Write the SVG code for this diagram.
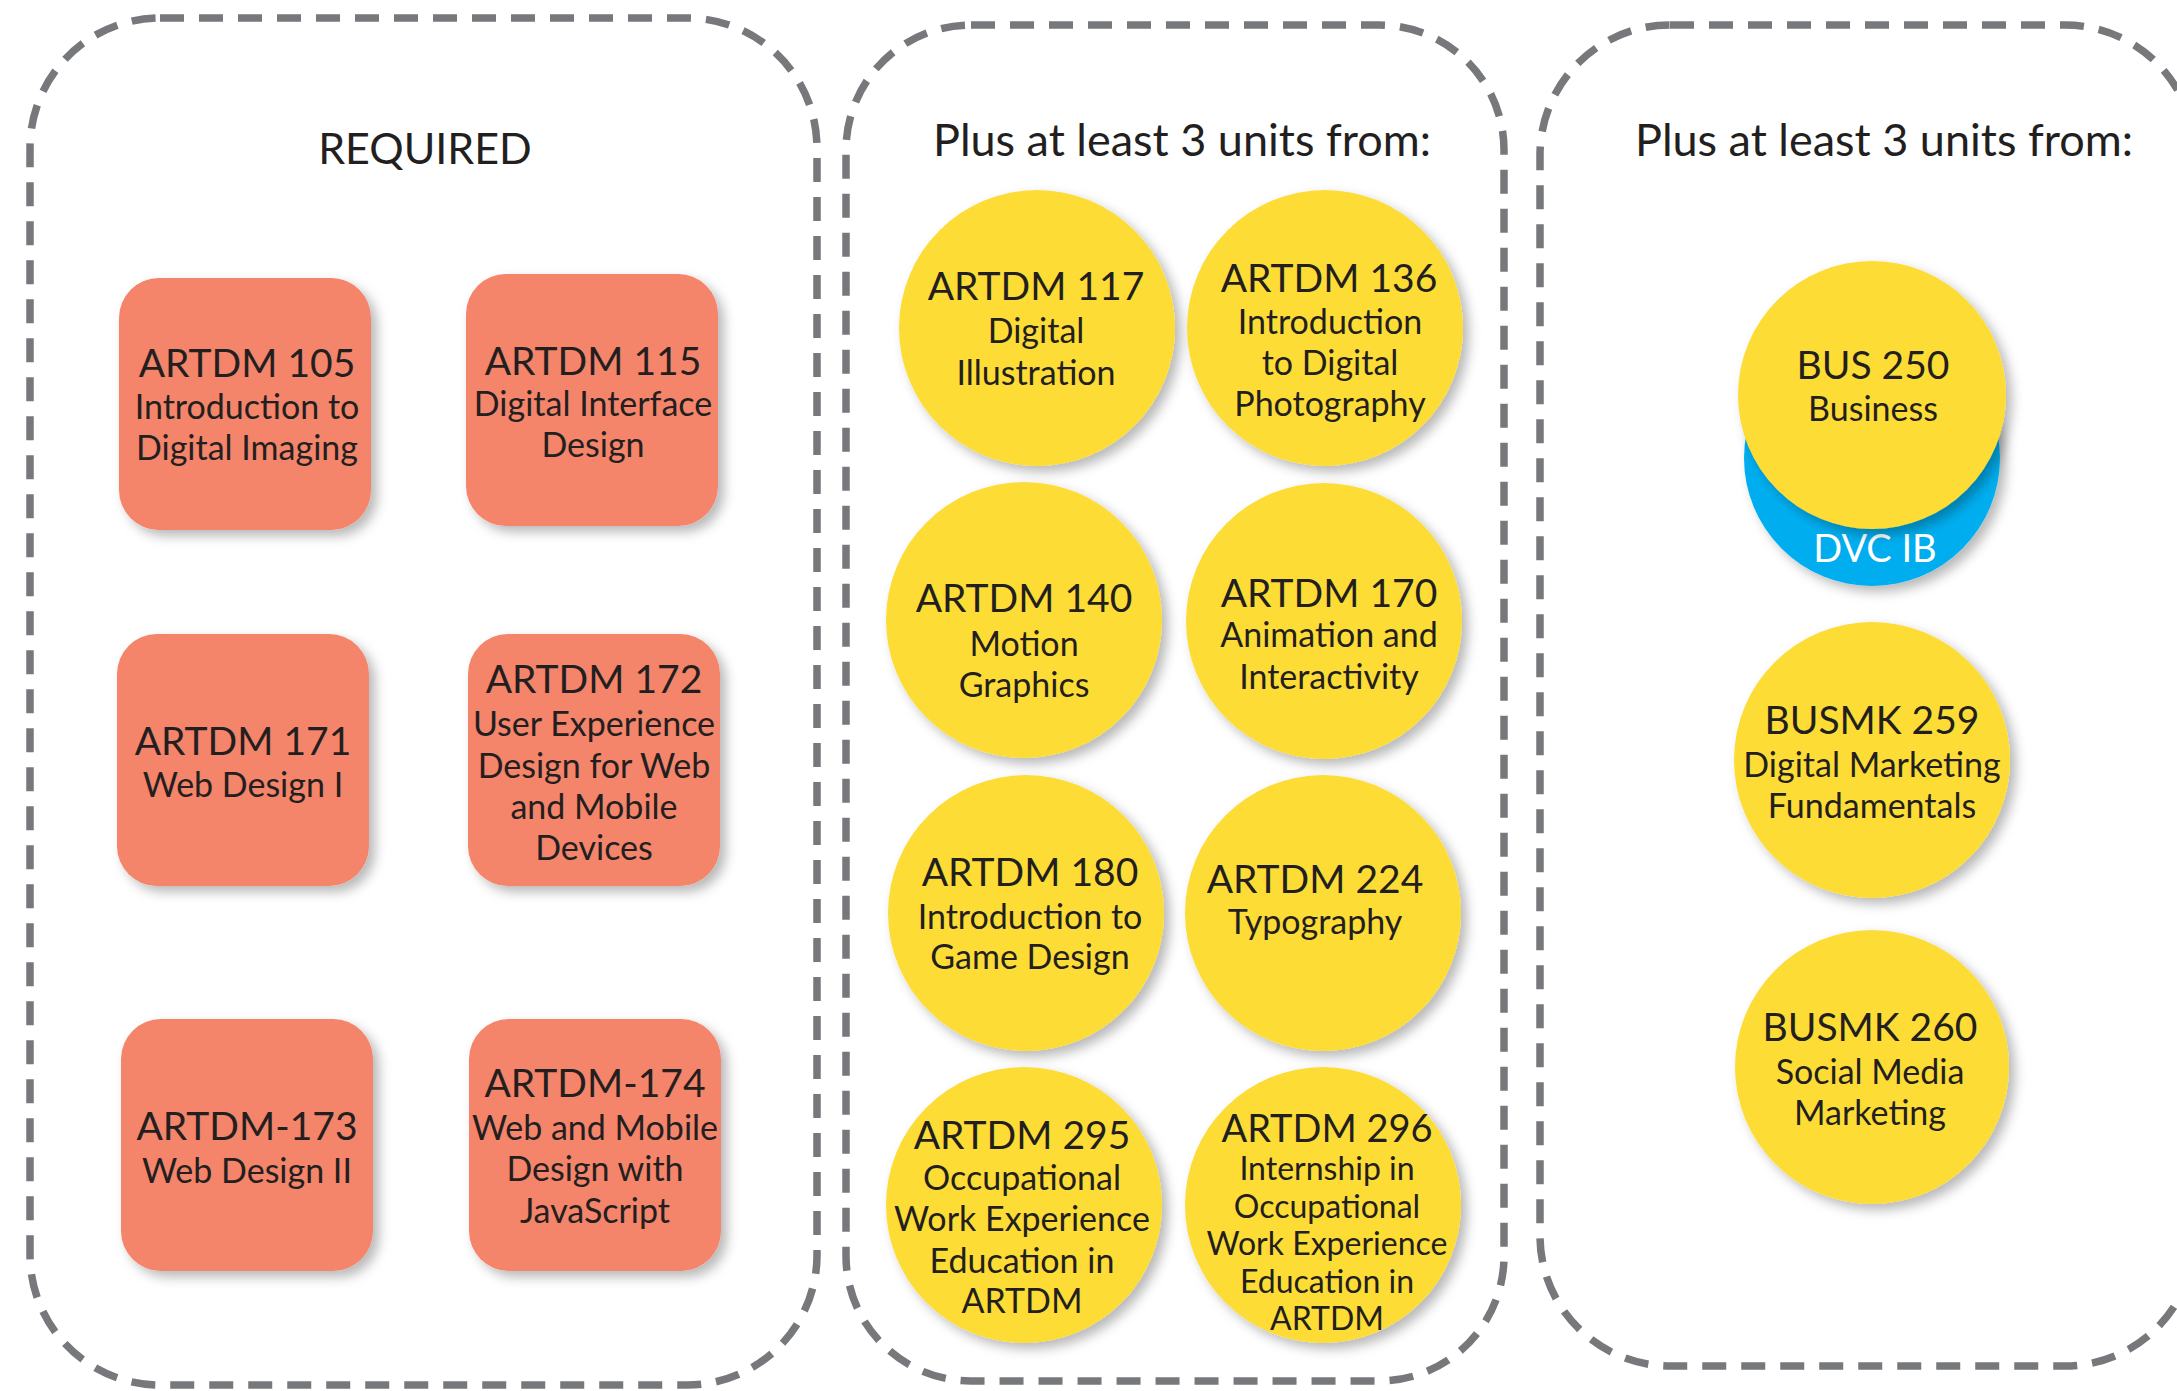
<svg xmlns="http://www.w3.org/2000/svg" width="2177" height="1391" viewBox="0 0 2177 1391">
<defs>
<filter id="sh" x="-20%" y="-20%" width="150%" height="150%">
<feDropShadow dx="6" dy="6" stdDeviation="6" flood-color="#000" flood-opacity="0.28"/>
</filter>
<style>
.panel{fill:none;stroke:#77787B;stroke-width:7.5;stroke-dasharray:24 15;}
.box{fill:#F4846A;filter:url(#sh);}
.circ{fill:#FDDC35;filter:url(#sh);}
.blue{fill:#00AEEF;filter:url(#sh);}
text{font-family:Lato,"Liberation Sans",sans-serif;fill:#231F20;text-anchor:middle;}
.title{font-size:45px;}
.req{font-size:43px;}
.code{font-size:39px;}
.sub{font-size:34px;}
.code2{font-size:38px;}
.sub2{font-size:32px;}
.white{fill:#FFFFFF;font-size:38px;}
</style>
</defs>
<g id="panels">
<rect id="panel-required" class="panel" x="30" y="18" width="787" height="1367" rx="130"/>
<rect id="panel-artdm" class="panel" x="846" y="25" width="658" height="1356" rx="125"/>
<rect id="panel-bus" class="panel" x="1540" y="25" width="655" height="1341" rx="130"/>
</g>
<g id="titles">
<text class="req" x="425" y="164">REQUIRED</text>
<text class="title" x="1182" y="156">Plus at least 3 units from:</text>
<text class="title" x="1884" y="156">Plus at least 3 units from:</text>
</g>
<g id="connectors"></g>
<g id="artdm105"><rect class="box" x="119" y="278" width="252" height="252" rx="40"/>
<text class="code" x="247" y="377">ARTDM 105</text><text class="sub" x="247" y="419">Introduction to</text><text class="sub" x="247" y="460">Digital Imaging</text></g>
<g id="artdm115"><rect class="box" x="466" y="274" width="252" height="252" rx="40"/>
<text class="code" x="593" y="375">ARTDM 115</text><text class="sub" x="593" y="416">Digital Interface</text><text class="sub" x="593" y="457">Design</text></g>
<g id="artdm171"><rect class="box" x="117" y="634" width="252" height="252" rx="40"/>
<text class="code" x="243" y="755">ARTDM 171</text><text class="sub" x="243" y="797">Web Design I</text></g>
<g id="artdm172"><rect class="box" x="468" y="634" width="252" height="252" rx="40"/>
<text class="code" x="594" y="693">ARTDM 172</text><text class="sub" x="594" y="736">User Experience</text><text class="sub" x="594" y="778">Design for Web</text><text class="sub" x="594" y="819">and Mobile</text><text class="sub" x="594" y="860">Devices</text></g>
<g id="artdm173"><rect class="box" x="121" y="1019" width="252" height="252" rx="40"/>
<text class="code" x="247" y="1140">ARTDM-173</text><text class="sub" x="247" y="1183">Web Design II</text></g>
<g id="artdm174"><rect class="box" x="469" y="1019" width="252" height="252" rx="40"/>
<text class="code" x="595" y="1097">ARTDM-174</text><text class="sub" x="595" y="1140">Web and Mobile</text><text class="sub" x="595" y="1181">Design with</text><text class="sub" x="595" y="1223">JavaScript</text></g>
<g id="artdm117"><circle class="circ" cx="1037" cy="328" r="138"/>
<text class="code" x="1036" y="300">ARTDM 117</text><text class="sub" x="1036" y="343">Digital</text><text class="sub" x="1036" y="385">Illustration</text></g>
<g id="artdm136"><circle class="circ" cx="1325" cy="328" r="138"/>
<text class="code" x="1329" y="292">ARTDM 136</text><text class="sub" x="1330" y="334">Introduction</text><text class="sub" x="1330" y="375">to Digital</text><text class="sub" x="1330" y="416">Photography</text></g>
<g id="artdm140"><circle class="circ" cx="1024" cy="620" r="138"/>
<text class="code" x="1024" y="612">ARTDM 140</text><text class="sub" x="1024" y="656">Motion</text><text class="sub" x="1024" y="697">Graphics</text></g>
<g id="artdm170"><circle class="circ" cx="1324" cy="621" r="138"/>
<text class="code" x="1329" y="607">ARTDM 170</text><text class="sub" x="1329" y="647">Animation and</text><text class="sub" x="1329" y="689">Interactivity</text></g>
<g id="artdm180"><circle class="circ" cx="1026" cy="913" r="138"/>
<text class="code" x="1030" y="886">ARTDM 180</text><text class="sub" x="1030" y="929">Introduction to</text><text class="sub" x="1030" y="969">Game Design</text></g>
<g id="artdm224"><circle class="circ" cx="1323" cy="913" r="138"/>
<text class="code" x="1315" y="893">ARTDM 224</text><text class="sub" x="1315" y="934">Typography</text></g>
<g id="artdm295"><circle class="circ" cx="1024" cy="1205" r="138"/>
<text class="code" x="1022" y="1149">ARTDM 295</text><text class="sub" x="1022" y="1190">Occupational</text><text class="sub" x="1022" y="1231">Work Experience</text><text class="sub" x="1022" y="1273">Education in</text><text class="sub" x="1022" y="1313">ARTDM</text></g>
<g id="artdm296"><circle class="circ" cx="1323" cy="1205" r="138"/>
<text class="code2" x="1327" y="1142">ARTDM 296</text><text class="sub2" x="1327" y="1180">Internship in</text><text class="sub2" x="1327" y="1218">Occupational</text><text class="sub2" x="1327" y="1255">Work Experience</text><text class="sub2" x="1327" y="1293">Education in</text><text class="sub2" x="1327" y="1330">ARTDM</text></g>
<g id="bus250"><circle class="blue" cx="1872" cy="458" r="128"/>
<text class="white" x="1875" y="562">DVC IB</text>
<circle class="circ" cx="1872" cy="395" r="134"/>
<text class="code" x="1873" y="379">BUS 250</text><text class="sub" x="1873" y="421">Business</text></g>
<g id="busmk259"><circle class="circ" cx="1872" cy="760" r="138"/>
<text class="code" x="1872" y="734">BUSMK 259</text><text class="sub" x="1872" y="777">Digital Marketing</text><text class="sub" x="1872" y="818">Fundamentals</text></g>
<g id="busmk260"><circle class="circ" cx="1872" cy="1067" r="137"/>
<text class="code" x="1870" y="1041">BUSMK 260</text><text class="sub" x="1870" y="1084">Social Media</text><text class="sub" x="1870" y="1125">Marketing</text></g>
</svg>
